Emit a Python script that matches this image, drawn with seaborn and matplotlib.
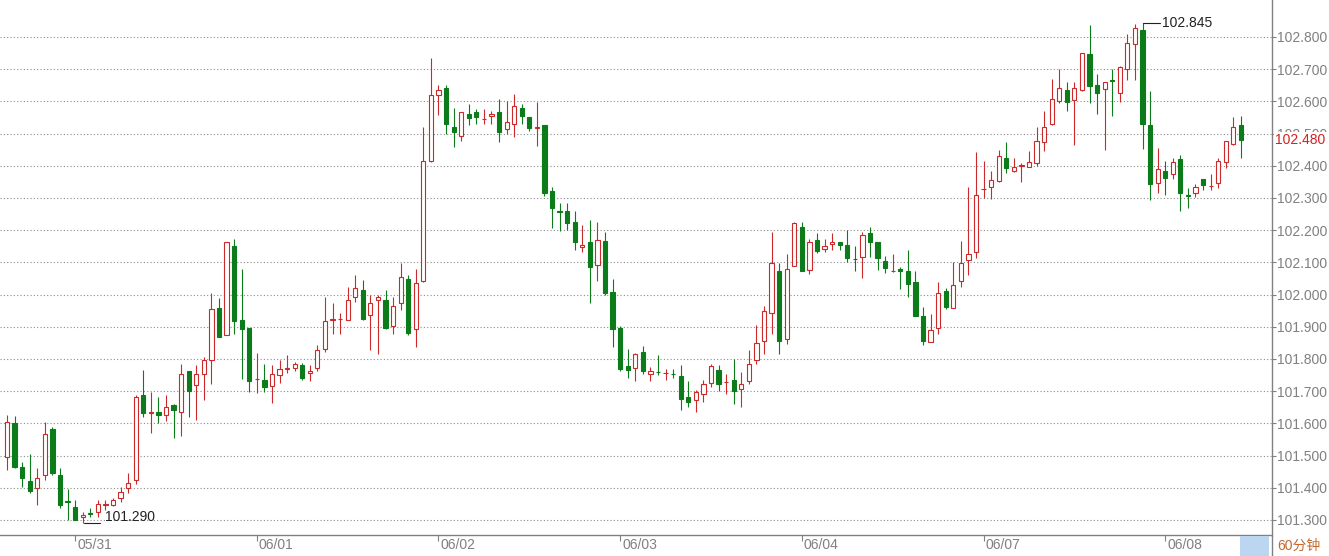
import numpy as np
import pandas as pd
import matplotlib
matplotlib.use("Agg")
import matplotlib.pyplot as plt
import matplotlib.transforms as mtransforms
from matplotlib.patches import Rectangle
from matplotlib.lines import Line2D
import seaborn as sns

# 60 minute candles
opens = [101.497, 101.600, 101.464, 101.422, 101.399, 101.440, 101.582, 101.440, 101.360, 101.340,
         101.310, 101.322, 101.325, 101.348, 101.347, 101.368, 101.399, 101.423, 101.688, 101.632,
         101.634, 101.626, 101.657, 101.636, 101.762, 101.719, 101.752, 101.796, 101.959, 101.873,
         102.152, 101.920, 101.896, 101.737, 101.736, 101.717, 101.749, 101.768, 101.772, 101.780,
         101.755, 101.773, 101.832, 101.922, 101.923, 101.921, 101.992, 102.014, 101.937, 101.983,
         101.984, 101.904, 101.974, 102.049, 101.893, 102.043, 102.416, 102.619, 102.641, 102.519,
         102.493, 102.560, 102.566, 102.544, 102.555, 102.568, 102.514, 102.529, 102.581, 102.553,
         102.518, 102.527, 102.322, 102.259, 102.261, 102.226, 102.147, 102.162, 102.092, 102.166,
         102.009, 101.896, 101.777, 101.773, 101.821, 101.754, 101.760, 101.756, 101.753, 101.746,
         101.682, 101.674, 101.690, 101.725, 101.765, 101.728, 101.735, 101.708, 101.732, 101.798,
         101.857, 101.943, 102.074, 101.862, 102.089, 102.210, 102.076, 102.169, 102.141, 102.157,
         102.164, 102.155, 102.112, 102.117, 102.191, 102.164, 102.105, 102.073, 102.081, 102.074,
         102.038, 101.935, 101.852, 101.896, 102.010, 101.959, 102.041, 102.108, 102.132, 102.327,
         102.333, 102.352, 102.423, 102.383, 102.400, 102.397, 102.408, 102.473, 102.530, 102.602,
         102.635, 102.604, 102.635, 102.748, 102.651, 102.637, 102.666, 102.627, 102.700, 102.777,
         102.821, 102.526, 102.348, 102.384, 102.374, 102.420, 102.308, 102.317, 102.358, 102.337,
         102.348, 102.413, 102.468, 102.528]
highs = [101.626, 101.623, 101.481, 101.505, 101.461, 101.605, 101.590, 101.461, 101.396, 101.363,
         101.324, 101.337, 101.363, 101.363, 101.368, 101.402, 101.447, 101.688, 101.765, 101.698,
         101.682, 101.688, 101.660, 101.786, 101.764, 101.780, 101.807, 102.006, 101.990, 102.162,
         102.172, 102.079, 101.896, 101.820, 101.786, 101.780, 101.796, 101.813, 101.791, 101.789,
         101.780, 101.842, 101.992, 101.975, 101.942, 102.023, 102.062, 102.045, 101.999, 101.999,
         102.014, 101.992, 102.097, 102.062, 102.080, 102.519, 102.736, 102.650, 102.650, 102.579,
         102.566, 102.593, 102.576, 102.576, 102.571, 102.607, 102.602, 102.622, 102.593, 102.553,
         102.597, 102.527, 102.335, 102.283, 102.283, 102.261, 102.217, 102.232, 102.224, 102.193,
         102.049, 101.902, 101.830, 101.818, 101.839, 101.775, 101.811, 101.770, 101.770, 101.780,
         101.732, 101.705, 101.736, 101.783, 101.780, 101.754, 101.800, 101.760, 101.829, 101.906,
         101.966, 102.195, 102.097, 102.126, 102.227, 102.224, 102.174, 102.191, 102.174, 102.191,
         102.164, 102.200, 102.151, 102.193, 102.210, 102.164, 102.120, 102.126, 102.086, 102.138,
         102.072, 101.960, 101.940, 102.038, 102.020, 102.101, 102.166, 102.335, 102.442, 102.414,
         102.385, 102.449, 102.473, 102.424, 102.410, 102.447, 102.521, 102.569, 102.670, 102.700,
         102.659, 102.659, 102.749, 102.837, 102.684, 102.660, 102.700, 102.710, 102.810, 102.840,
         102.845, 102.632, 102.456, 102.415, 102.423, 102.435, 102.330, 102.343, 102.358, 102.374,
         102.425, 102.476, 102.553, 102.556]
lows = [101.456, 101.461, 101.404, 101.383, 101.347, 101.425, 101.440, 101.337, 101.301, 101.300,
        101.290, 101.309, 101.309, 101.332, 101.342, 101.355, 101.384, 101.412, 101.619, 101.571,
        101.602, 101.608, 101.554, 101.561, 101.619, 101.612, 101.674, 101.722, 101.868, 101.873,
        101.878, 101.739, 101.698, 101.693, 101.698, 101.662, 101.724, 101.755, 101.763, 101.736,
        101.731, 101.763, 101.822, 101.877, 101.878, 101.920, 101.976, 101.921, 101.829, 101.816,
        101.894, 101.878, 101.952, 101.873, 101.837, 102.040, 102.413, 102.558, 102.500, 102.459,
        102.476, 102.527, 102.529, 102.531, 102.531, 102.473, 102.498, 102.488, 102.531, 102.507,
        102.462, 102.307, 102.207, 102.196, 102.201, 102.140, 102.131, 101.973, 102.042, 101.999,
        101.837, 101.763, 101.742, 101.732, 101.754, 101.732, 101.749, 101.736, 101.742, 101.641,
        101.651, 101.636, 101.667, 101.713, 101.701, 101.692, 101.659, 101.651, 101.721, 101.785,
        101.814, 101.878, 101.814, 101.847, 102.089, 102.072, 102.064, 102.128, 102.131, 102.138,
        102.138, 102.100, 102.072, 102.050, 102.117, 102.076, 102.067, 102.069, 102.017, 101.991,
        101.935, 101.842, 101.852, 101.878, 101.955, 101.959, 102.025, 102.060, 102.114, 102.300,
        102.297, 102.349, 102.377, 102.380, 102.349, 102.397, 102.400, 102.447, 102.528, 102.596,
        102.571, 102.466, 102.633, 102.595, 102.561, 102.450, 102.556, 102.597, 102.668, 102.668,
        102.452, 102.293, 102.317, 102.310, 102.358, 102.260, 102.270, 102.302, 102.324, 102.324,
        102.330, 102.394, 102.464, 102.425]
closes = [101.605, 101.464, 101.430, 101.389, 101.430, 101.566, 101.445, 101.347, 101.355, 101.301,
          101.317, 101.318, 101.349, 101.351, 101.363, 101.387, 101.414, 101.682, 101.633, 101.634,
          101.626, 101.650, 101.641, 101.752, 101.701, 101.752, 101.796, 101.956, 101.868, 102.162,
          101.918, 101.894, 101.732, 101.739, 101.713, 101.753, 101.770, 101.771, 101.786, 101.741,
          101.762, 101.827, 101.917, 101.924, 101.925, 101.983, 102.021, 101.924, 101.974, 101.994,
          101.896, 101.964, 102.054, 101.880, 102.036, 102.414, 102.619, 102.635, 102.529, 102.504,
          102.566, 102.548, 102.550, 102.546, 102.562, 102.504, 102.535, 102.586, 102.555, 102.517,
          102.519, 102.314, 102.269, 102.257, 102.221, 102.164, 102.155, 102.087, 102.171, 102.004,
          101.892, 101.770, 101.767, 101.814, 101.763, 101.763, 101.759, 101.757, 101.752, 101.675,
          101.667, 101.698, 101.721, 101.777, 101.723, 101.729, 101.700, 101.723, 101.785, 101.849,
          101.950, 102.097, 101.855, 102.079, 102.221, 102.072, 102.164, 102.136, 102.151, 102.164,
          102.155, 102.115, 102.109, 102.186, 102.164, 102.113, 102.082, 102.074, 102.074, 102.033,
          101.935, 101.855, 101.890, 102.004, 101.960, 102.031, 102.099, 102.127, 102.309, 102.329,
          102.356, 102.429, 102.393, 102.397, 102.401, 102.413, 102.478, 102.521, 102.607, 102.641,
          102.597, 102.641, 102.749, 102.648, 102.627, 102.660, 102.664, 102.707, 102.780, 102.827,
          102.531, 102.343, 102.389, 102.361, 102.413, 102.317, 102.306, 102.335, 102.340, 102.338,
          102.415, 102.476, 102.520, 102.480]

date_labels = ['05/31', '06/01', '06/02', '06/03', '06/04', '06/07', '06/08']
date_pos = [9, 33, 57, 81, 105, 129, 153]
y_ticks = [101.3, 101.4, 101.5, 101.6, 101.7, 101.8, 101.9, 102.0,
           102.1, 102.2, 102.3, 102.4, 102.5, 102.6, 102.7, 102.8]
last_price = 102.480
max_price = 102.845
min_price = 101.290

df = pd.DataFrame({'open': opens, 'high': highs, 'low': lows, 'close': closes})
df['idx'] = np.arange(len(df))
df['up'] = df['close'] >= df['open']

RED = '#cc2a2a'
GREEN = '#0c7c1a'
GREY = '#808080'

sns.set_style('white')
plt.rcParams['font.family'] = ['Liberation Sans', 'Noto Sans CJK SC', 'DejaVu Sans']

W, H = 1329, 556
fig = plt.figure(figsize=(W / 100, H / 100), dpi=100)
ax = fig.add_axes([0, 21 / H, 1271.5 / W, 535 / H])

# wicks
colors = np.where(df['up'], RED, GREEN)
ax.vlines(df['idx'], df['low'], df['high'], colors=colors, linewidth=0.8, zorder=2)

# bodies
body_lo = df[['open', 'close']].min(axis=1)
body_h = (df['close'] - df['open']).abs().clip(lower=0.0005)
fills = np.where(df['up'], 'white', GREEN)
ax.bar(df['idx'], body_h, bottom=body_lo, width=0.56, color=fills,
       edgecolor=colors, linewidth=0.8, zorder=3)

ax.set_xlim(-0.925, 167.04)
ax.set_ylim(101.2534, 102.9149)

ax.yaxis.tick_right()
ax.set_yticks(y_ticks)
ax.set_yticklabels([f'{v:.3f}' for v in y_ticks])
ax.tick_params(axis='y', direction='out', length=3, width=0.8, color=GREY,
               labelcolor=GREY, labelsize=10, pad=1, right=True, left=False)
ax.grid(axis='y', linestyle=(0, (1, 2)), color='#8c8c8c', linewidth=0.8)
ax.grid(axis='x', visible=False)
ax.set_axisbelow(True)

ax.set_xticks(date_pos)
ax.set_xticklabels([])
ax.tick_params(axis='x', direction='out', length=4, width=0.8, color=GREY, bottom=True)
for pos, lab in zip(date_pos, date_labels):
    ax.annotate(lab, xy=(pos, 0), xycoords=('data', 'axes fraction'),
                xytext=(2, -10), textcoords='offset pixels',
                ha='left', va='center', fontsize=10, color=GREY)

for s in ['left', 'top']:
    ax.spines[s].set_visible(False)
for s in ['right', 'bottom']:
    ax.spines[s].set_color(GREY)
    ax.spines[s].set_linewidth(1)

# extreme markers
hi_i = int(np.argmax(highs))
ax.plot([hi_i, hi_i + 2.3], [max_price, max_price], color='#222222', linewidth=0.8, zorder=4)
ax.text(hi_i + 2.6, max_price, f'{max_price:.3f}', ha='left', va='center',
        fontsize=10, color='#222222')
lo_i = int(np.argmin(lows))
ax.plot([lo_i + 0.2, lo_i + 2.3], [min_price, min_price], color='#222222', linewidth=0.8, zorder=4)
ax.text(lo_i + 2.9, min_price + 0.006, f'{min_price:.3f}', ha='left', va='baseline',
        fontsize=10, color='#222222')

# last price tag on the axis
ax.annotate(f'{last_price:.3f}', xy=(1, last_price), xycoords=('axes fraction', 'data'),
            xytext=(4, 0), textcoords='offset pixels', ha='left', va='center',
            fontsize=10, color='#d42020',
            bbox=dict(boxstyle='square,pad=0.1', facecolor='white', edgecolor='none'))

# right axis line runs to the bottom, small period box
fig.add_artist(Line2D([1271.5 / W, 1271.5 / W], [0, 21 / H], color=GREY, linewidth=1,
                      transform=fig.transFigure))
fig.patches.append(Rectangle((1240 / W, 0), 29 / W, 20 / H, transform=fig.transFigure,
                             facecolor='#bcd6f2', edgecolor='none'))
fig.text(1277 / W, 10 / H, '60分钟', ha='left', va='center', fontsize=10, color='#c4682c',
         family=['Liberation Sans', 'Noto Sans CJK SC'])

fig.savefig('out.png', dpi=100)
